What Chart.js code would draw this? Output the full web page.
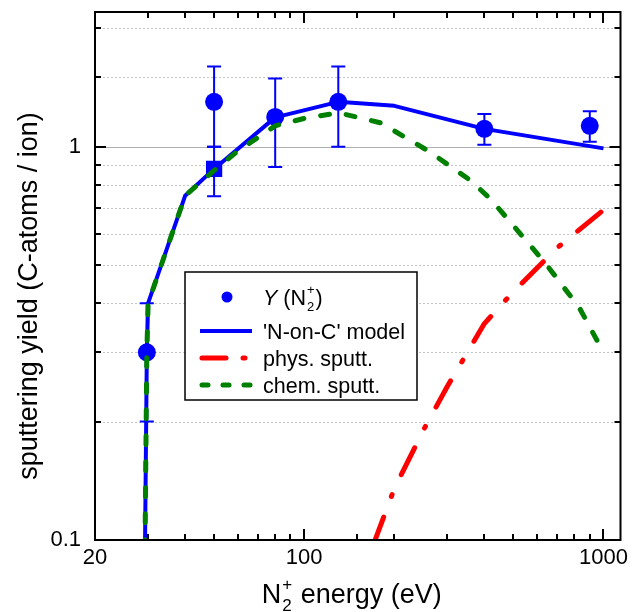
<!DOCTYPE html>
<html lang="en">
<head>
<meta charset="UTF-8" />
<meta name="viewport" content="width=device-width, initial-scale=1.0" />
<title>Sputtering yield of N2+ on carbon</title>
<script src="https://cdn.jsdelivr.net/npm/chart.js"></script>
<style>
    html, body { margin: 0; padding: 0; background: #fff; }
    #wrap { width: 632px; height: 612px; }
</style>
</head>
<body>
<div id="wrap"><canvas id="myChart"></canvas></div>
<script>
// measured yield Y(N2+), with error bar ends
const expEnergy = [29.8, 50, 80, 130, 400, 900]
const expYield = [0.30, 1.30, 1.19, 1.30, 1.11, 1.13]
const expLow = [0.20, 1.00, 0.888, 1.00, 1.012, 1.03]
const expHigh = [0.40, 1.60, 1.49, 1.60, 1.21, 1.23]

// the square point at 50 eV
const sqEnergy = [50]
const sqYield = [0.878]
const sqLow = [0.748]
const sqHigh = [1.0]

// 'N-on-C' model
const modelEnergy = [29.38, 29.8, 30.1, 40, 50, 80, 130, 200, 400, 1000]
const modelYield = [0.095, 0.30, 0.40, 0.75, 0.878, 1.187, 1.30, 1.27, 1.11, 0.99]

// physical sputtering part
const physEnergy = [170, 200, 250, 300, 400, 500, 700, 1000]
const physYield = [0.097, 0.135, 0.19, 0.245, 0.355, 0.428, 0.553, 0.69]

// chemical sputtering part
const chemEnergy = [29.38, 29.8, 30.1, 40, 50, 60, 80, 100, 130, 180, 260, 360, 420, 500, 640, 830, 1000]
const chemYield = [0.095, 0.30, 0.40, 0.75, 0.87, 0.975, 1.13, 1.18, 1.22, 1.15, 0.975, 0.82, 0.735, 0.63, 0.505, 0.39, 0.30]

const xTickLabels = [20, 100, 1000]
const yTickLabels = [0.1, 1]

const FONT = "'Liberation Sans', Arial, sans-serif"
const BLUE = '#0000ff'
const RED = '#ff0000'
const GREEN = '#008000'

const xy = (xs, ys) => xs.map((x, i) => ({ x: x, y: ys[i] }))
const near = (v, list) => list.some((t) => Math.abs(v - t) < 1e-6 * t)
const isDecade = (v) => Math.abs(Math.log10(v) - Math.round(Math.log10(v))) < 1e-6

// grid lines + error bars under the data
const underlay = {
    id: 'underlay',
    beforeDatasetsDraw(chart) {
        const { ctx, chartArea: a, scales } = chart
        const x = scales.x
        const y = scales.y
        ctx.save()
        ctx.lineWidth = 1
        y.ticks.forEach((t) => {
            if (t.value <= y.min * 1.0001 || t.value >= y.max * 0.9999) return
            const py = Math.round(y.getPixelForValue(t.value)) + 0.5
            const major = isDecade(t.value)
            ctx.beginPath()
            ctx.strokeStyle = major ? '#b0b0b0' : '#c4c4c4'
            ctx.setLineDash(major ? [] : [2, 2])
            ctx.moveTo(a.left, py)
            ctx.lineTo(a.right, py)
            ctx.stroke()
        })
        ctx.setLineDash([])

        // error bars
        const bars = (es, lo, hi) => {
            es.forEach((e, i) => {
                const px = x.getPixelForValue(e)
                const p1 = y.getPixelForValue(lo[i])
                const p2 = y.getPixelForValue(hi[i])
                ctx.beginPath()
                ctx.moveTo(px, p1)
                ctx.lineTo(px, p2)
                ctx.moveTo(px - 7, p1)
                ctx.lineTo(px + 7, p1)
                ctx.moveTo(px - 7, p2)
                ctx.lineTo(px + 7, p2)
                ctx.stroke()
            })
        }
        ctx.strokeStyle = BLUE
        ctx.lineWidth = 2
        bars(expEnergy, expLow, expHigh)
        bars(sqEnergy, sqLow, sqHigh)
        ctx.restore()
    },
}

// text with stacked sub/superscript
function drawRich(ctx, parts, x, y, size) {
    let cx = x
    parts.forEach((p) => {
        if (p.sub !== undefined) {
            ctx.font = Math.round(size * 0.62) + 'px ' + FONT
            const w1 = ctx.measureText(p.sub).width
            const w2 = ctx.measureText(p.sup).width
            ctx.fillText(p.sub, cx + 1, y + size * 0.3)
            ctx.fillText(p.sup, cx + 1, y - size * 0.48)
            cx += Math.max(w1, w2) + 2
        } else {
            ctx.font = (p.italic ? 'italic ' : '') + size + 'px ' + FONT
            ctx.fillText(p.t, cx, y)
            cx += ctx.measureText(p.t).width
        }
    })
    return cx - x
}

function richWidth(ctx, parts, size) {
    let w = 0
    parts.forEach((p) => {
        if (p.sub !== undefined) {
            ctx.font = Math.round(size * 0.62) + 'px ' + FONT
            w += Math.max(ctx.measureText(p.sub).width, ctx.measureText(p.sup).width) + 2
        } else {
            ctx.font = (p.italic ? 'italic ' : '') + size + 'px ' + FONT
            w += ctx.measureText(p.t).width
        }
    })
    return w
}

// frame, inward ticks, axis titles, legend
const overlay = {
    id: 'overlay',
    afterDatasetsDraw(chart) {
        const { ctx, chartArea: a, scales } = chart
        const x = scales.x
        const y = scales.y
        ctx.save()
        ctx.strokeStyle = '#000'
        ctx.lineWidth = 2
        ctx.strokeRect(a.left, a.top, a.right - a.left, a.bottom - a.top)

        ctx.beginPath()
        x.ticks.forEach((t) => {
            if (t.value <= x.min * 1.0001 || t.value >= x.max * 0.9999) return
            const px = Math.round(x.getPixelForValue(t.value))
            const len = isDecade(t.value) ? 11 : 6
            ctx.moveTo(px, a.bottom)
            ctx.lineTo(px, a.bottom - len)
            ctx.moveTo(px, a.top)
            ctx.lineTo(px, a.top + len)
        })
        y.ticks.forEach((t) => {
            if (t.value <= y.min * 1.0001 || t.value >= y.max * 0.9999) return
            const py = Math.round(y.getPixelForValue(t.value))
            const len = isDecade(t.value) ? 11 : 6
            ctx.moveTo(a.left, py)
            ctx.lineTo(a.left + len, py)
            ctx.moveTo(a.right, py)
            ctx.lineTo(a.right - len, py)
        })
        ctx.stroke()

        // axis titles
        ctx.fillStyle = '#000'
        ctx.textBaseline = 'alphabetic'
        const xt = [{ t: 'N' }, { sub: '2', sup: '+' }, { t: ' energy (eV)' }]
        const xs = 27
        const xw = richWidth(ctx, xt, xs)
        drawRich(ctx, xt, (a.left + a.right) / 2 - xw / 2 - 6, 603, xs)

        ctx.save()
        ctx.translate(37, 296)
        ctx.rotate(-Math.PI / 2)
        ctx.font = '27px ' + FONT
        ctx.textAlign = 'center'
        ctx.fillText('sputtering yield (C-atoms / ion)', 0, 0)
        ctx.restore()

        // legend
        const bx = a.left + 90
        const by = a.top + 260
        const bw = 232
        const bh = 128
        ctx.fillStyle = '#fff'
        ctx.fillRect(bx, by, bw, bh)
        ctx.strokeStyle = '#000'
        ctx.lineWidth = 1.5
        ctx.strokeRect(bx, by, bw, bh)

        const rows = [by + 25, by + 59, by + 86, by + 113]
        const lx0 = bx + 16
        const lx1 = bx + 66
        const tx = bx + 78
        const ls = 21.5

        ctx.fillStyle = BLUE
        ctx.beginPath()
        ctx.arc(bx + 42, rows[0], 5.5, 0, Math.PI * 2)
        ctx.fill()

        ctx.lineCap = 'butt'
        ctx.strokeStyle = BLUE
        ctx.lineWidth = 4
        ctx.beginPath()
        ctx.moveTo(lx0 - 1, rows[1])
        ctx.lineTo(lx1 + 1, rows[1])
        ctx.stroke()

        ctx.lineCap = 'round'
        ctx.strokeStyle = RED
        ctx.lineWidth = 5
        ctx.setLineDash([24, 17, 2, 17])
        ctx.beginPath()
        ctx.moveTo(lx0 + 1, rows[2])
        ctx.lineTo(lx1, rows[2])
        ctx.stroke()

        ctx.strokeStyle = GREEN
        ctx.setLineDash([6, 15])
        ctx.beginPath()
        ctx.moveTo(lx0 + 1, rows[3])
        ctx.lineTo(lx1, rows[3])
        ctx.stroke()
        ctx.setLineDash([])

        ctx.fillStyle = '#000'
        const base = ls * 0.36
        drawRich(ctx, [{ t: 'Y', italic: true }, { t: ' (N' }, { sub: '2', sup: '+' }, { t: ')' }], tx, rows[0] + base, ls)
        ctx.font = ls + 'px ' + FONT
        ctx.fillText("'N-on-C' model", tx, rows[1] + base)
        ctx.fillText('phys. sputt.', tx, rows[2] + base)
        ctx.fillText('chem. sputt.', tx, rows[3] + base)
        ctx.restore()
    },
}

const tickFont = { family: FONT, size: 22 }

const config = {
    type: 'line',
    data: {
        datasets: [
            {
                label: 'chem. sputt.',
                data: xy(chemEnergy, chemYield),
                borderColor: GREEN,
                borderWidth: 5,
                borderDash: [9, 17],
                borderCapStyle: 'round',
                borderJoinStyle: 'round',
                pointRadius: 0,
                fill: false,
            },
            {
                label: 'Y (N2+)',
                data: xy(expEnergy, expYield),
                showLine: false,
                pointStyle: 'circle',
                pointRadius: 9,
                pointBackgroundColor: BLUE,
                pointBorderWidth: 0,
            },
            {
                label: 'Y (N2+) square',
                data: xy(sqEnergy, sqYield),
                showLine: false,
                pointStyle: 'rect',
                pointRadius: 11.5,
                pointBackgroundColor: BLUE,
                pointBorderWidth: 0,
            },
            {
                label: "'N-on-C' model",
                data: xy(modelEnergy, modelYield),
                borderColor: BLUE,
                borderWidth: 4,
                borderJoinStyle: 'round',
                pointRadius: 0,
                fill: false,
            },
            {
                label: 'phys. sputt.',
                data: xy(physEnergy, physYield),
                borderColor: RED,
                borderWidth: 5,
                borderDash: [30, 22, 2, 22],
                borderCapStyle: 'round',
                borderJoinStyle: 'round',
                pointRadius: 0,
                fill: false,
            },
        ],
    },
    options: {
        responsive: true,
        maintainAspectRatio: false,
        animation: false,
        layout: { padding: { top: 12, right: 8, left: 0, bottom: 0 } },
        plugins: {
            legend: { display: false },
            tooltip: { enabled: false },
        },
        scales: {
            x: {
                type: 'logarithmic',
                min: 20,
                max: 1140,
                grid: { display: false, drawTicks: false, tickLength: 0 },
                border: { display: false },
                ticks: {
                    autoSkip: false,
                    maxRotation: 0,
                    padding: 5,
                    color: '#000',
                    font: tickFont,
                    callback: (v) => (near(v, xTickLabels) ? String(Math.round(v)) : ''),
                },
                afterFit: (s) => {
                    s.height = 72
                    s.paddingLeft = 0
                    s.paddingRight = 0
                },
            },
            y: {
                type: 'logarithmic',
                min: 0.1,
                max: 2.2,
                grid: { display: false, drawTicks: false, tickLength: 0 },
                border: { display: false },
                ticks: {
                    autoSkip: false,
                    padding: 14,
                    color: '#000',
                    font: tickFont,
                    callback: (v) => (near(v, yTickLabels) ? String(v) : ''),
                },
                afterFit: (s) => {
                    s.width = 95
                    s.paddingTop = 0
                    s.paddingBottom = 0
                },
            },
        },
    },
    plugins: [underlay, overlay],
}

const myChart = new Chart(document.getElementById('myChart'), config)
</script>
</body>
</html>
